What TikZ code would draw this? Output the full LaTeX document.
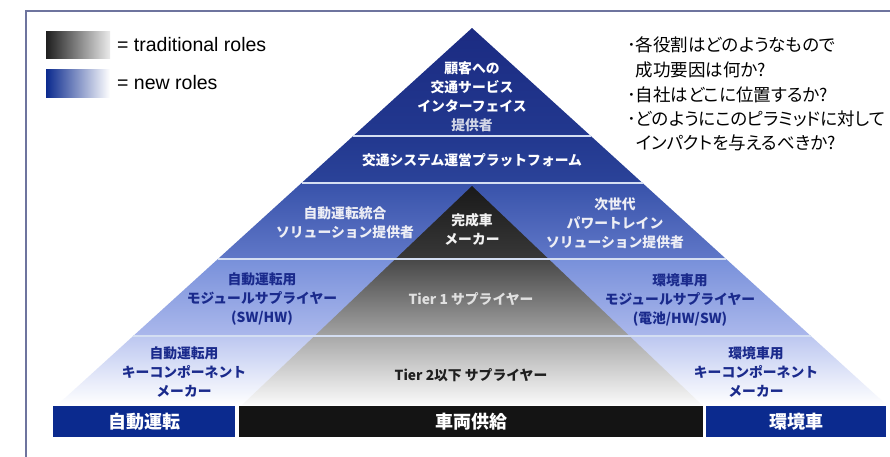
\documentclass[tikz,border=0pt]{standalone}
\usepackage{fontspec}
\newfontfamily\jp{Noto Sans CJK JP}
\newfontfamily\jpp{Noto Sans CJK JP}[RawFeature=+palt]
\newfontfamily\lat{Liberation Sans}
\definecolor{navy}{HTML}{0B2A8E}
\definecolor{framec}{HTML}{6E749E}
\definecolor{bA}{HTML}{1B2B82}
\definecolor{bB}{HTML}{22388F}
\definecolor{bC}{HTML}{2B4399}
\definecolor{bD}{HTML}{3852AA}
\definecolor{bE}{HTML}{6078C8}
\definecolor{bF}{HTML}{7890DA}
\definecolor{bG}{HTML}{ABB8EC}
\definecolor{bH}{HTML}{BCC7F0}
\definecolor{seps}{HTML}{D4DEF2}
\definecolor{tblue}{HTML}{1A2A8C}
\begin{document}
\begin{tikzpicture}[x=1pt,y=-1pt,
  lab/.style={font=\jp\bfseries\fontsize{13.8}{19}\selectfont, align=center, inner sep=0pt},
  sepline/.style={draw=seps, line width=2.2pt},
  barbox/.style={font=\jp\bfseries\fontsize{18}{20}\selectfont, text=white, minimum height=31pt, inner sep=0pt},
  qline/.style={font=\jpp\fontsize{17.5}{20}\selectfont, anchor=west, inner sep=0pt},
  legtext/.style={font=\lat\fontsize{19.5}{21}\selectfont, anchor=west, inner sep=0pt}]
\useasboundingbox (0,0) rectangle (890,456);
\fill[white] (0,0) rectangle (890,456);
% frame
\draw[framec, line width=1.4pt] (26,460) -- (26,11) -- (895,11);
% legend
\shade[left color=black!88, right color=black!8] (46,31) rectangle (110,58);
\shade[left color=navy, right color=white] (46,69) rectangle (110,97);
\node[legtext] (lt) at (117,45) {= traditional roles};
\node[legtext] (ln) at (117,83) {= new roles};
% pyramid outer bands
\shade[top color=bA, bottom color=bB] (472,28) -- (590.8,136) -- (353.2,136) -- cycle;
\shade[top color=bB, bottom color=bC] (353.2,136) -- (590.8,136) -- (642.5,183) -- (301.5,183) -- cycle;
\shade[top color=bD, bottom color=bE] (301.5,183) -- (642.5,183) -- (726.1,259) -- (217.9,259) -- cycle;
\shade[top color=bF, bottom color=bG] (217.9,259) -- (726.1,259) -- (810.8,336) -- (133.2,336) -- cycle;
\shade[top color=bH, bottom color=white] (133.2,336) -- (810.8,336) -- (886.7,405) -- (57.3,405) -- cycle;
% inner gray pyramid
\shade[top color=black!90, bottom color=black!78] (472,186) -- (548.6,259) -- (395.4,259) -- cycle;
\shade[top color=black!72, bottom color=black!36] (395.4,259) -- (548.6,259) -- (629.5,336) -- (314.5,336) -- cycle;
\shade[top color=black!34, bottom color=black!2] (314.5,336) -- (629.5,336) -- (702,405) -- (242,405) -- cycle;
% separators
\draw[sepline] (353.2,136) -- (590.8,136);
\draw[sepline] (301.5,183) -- (642.5,183);
\draw[sepline] (217.9,259) -- (726.1,259);
\draw[sepline] (133.2,336) -- (810.8,336);
% labels
\node[lab, text=white] (t1) at (472,96.5) {顧客への\\交通サービス\\インターフェイス\\\textcolor{white!80!bA}{提供者}};
\node[lab, text=white] (t2) at (472,160) {交通システム運営プラットフォーム};
\node[lab, text=white!92!bA] (t3l) at (345,222.5) {自動運転統合\\ソリューション提供者};
\node[lab, text=white!95!black] (t3c) at (472,229) {完成車\\メーカー};
\node[lab, text=white!92!bA] (t3r) at (615,223.5) {次世代\\パワートレイン\\ソリューション提供者};
\node[lab, text=tblue] (t4l) at (262,299) {自動運転用\\モジュールサプライヤー\\(SW/HW)};
\node[lab, text=black!12] (t4c) at (471,299) {Tier 1 サプライヤー};
\node[lab, text=tblue] (t4r) at (680,300) {環境車用\\モジュールサプライヤー\\(電池/HW/SW)};
\node[lab, text=tblue] (t5l) at (184,372.5) {自動運転用\\キーコンポーネント\\メーカー};
\node[lab, text=black!88] (t5c) at (471,375) {Tier 2以下 サプライヤー};
\node[lab, text=tblue] (t5r) at (756,372.5) {環境車用\\キーコンポーネント\\メーカー};
% bottom bars
\node[barbox, fill=navy, minimum width=182pt] (b1) at (144,421.5) {自動運転};
\node[barbox, fill=black!92, minimum width=464pt] (b2) at (471,421.5) {車両供給};
\node[barbox, fill=navy, minimum width=180pt] (b3) at (796,421.5) {環境車};
% questions
\node[qline] (q1) at (627,45) {･各役割はどのようなもので};
\node[qline] (q2) at (627,70) {\phantom{･}成功要因は何か?};
\node[qline] (q3) at (627,95) {･自社はどこに位置するか?};
\node[qline] (q4) at (627,119) {･どのようにこのピラミッドに対して};
\node[qline] (q5) at (627,143) {\phantom{･}インパクトを与えるべきか?};
\end{tikzpicture}
\end{document}
